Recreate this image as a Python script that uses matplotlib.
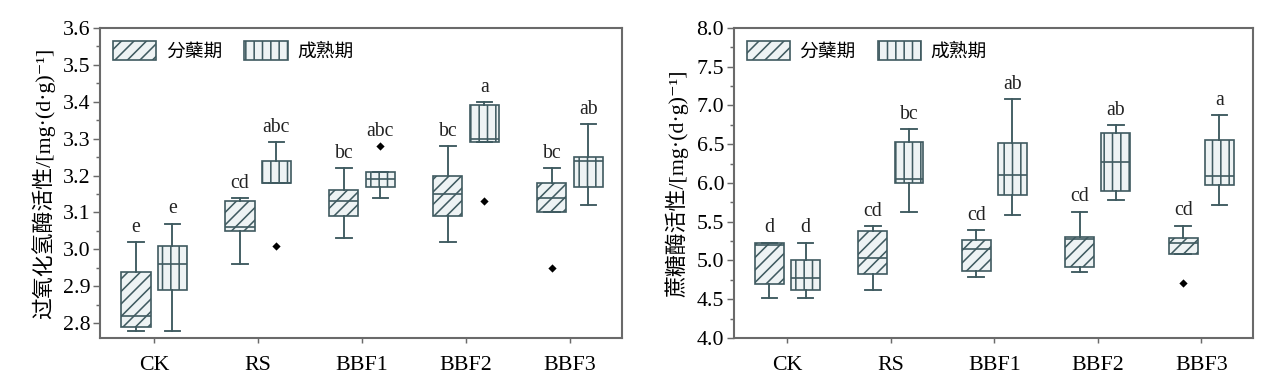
import matplotlib
matplotlib.use('Agg')
import matplotlib.pyplot as plt
from matplotlib.patches import Patch
from matplotlib.ticker import MultipleLocator
import numpy as np

groups = ['CK', 'RS', 'BBF1', 'BBF2', 'BBF3']
series = ['分蘖期', '成熟期']

# catalase (left panel): whisker low, q1, median, q3, whisker high, outliers
cat_till_lo = [2.78, 2.96, 3.03, 3.02, 3.10]
cat_till_q1 = [2.79, 3.05, 3.09, 3.09, 3.10]
cat_till_med = [2.82, 3.06, 3.13, 3.15, 3.14]
cat_till_q3 = [2.94, 3.13, 3.16, 3.20, 3.18]
cat_till_hi = [3.02, 3.14, 3.22, 3.28, 3.22]
cat_till_fl = [[], [], [], [], [2.95]]
cat_till_sig = ['e', 'cd', 'bc', 'bc', 'bc']

cat_mat_lo = [2.78, 3.18, 3.14, 3.29, 3.12]
cat_mat_q1 = [2.89, 3.18, 3.17, 3.29, 3.17]
cat_mat_med = [2.96, 3.18, 3.19, 3.30, 3.24]
cat_mat_q3 = [3.01, 3.24, 3.21, 3.39, 3.25]
cat_mat_hi = [3.07, 3.29, 3.21, 3.40, 3.34]
cat_mat_fl = [[], [3.01], [3.28], [3.13], []]
cat_mat_sig = ['e', 'abc', 'abc', 'a', 'ab']

# sucrase (right panel)
suc_till_lo = [4.52, 4.62, 4.79, 4.85, 5.08]
suc_till_q1 = [4.69, 4.83, 4.86, 4.92, 5.08]
suc_till_med = [5.20, 5.03, 5.15, 5.28, 5.23]
suc_till_q3 = [5.23, 5.38, 5.27, 5.30, 5.29]
suc_till_hi = [5.23, 5.44, 5.39, 5.63, 5.45]
suc_till_fl = [[], [], [], [], [4.71]]
suc_till_sig = ['d', 'cd', 'cd', 'cd', 'cd']

suc_mat_lo = [4.52, 5.62, 5.59, 5.78, 5.72]
suc_mat_q1 = [4.62, 6.00, 5.84, 5.89, 5.97]
suc_mat_med = [4.77, 6.05, 6.10, 6.27, 6.09]
suc_mat_q3 = [5.00, 6.53, 6.52, 6.64, 6.55]
suc_mat_hi = [5.23, 6.70, 7.08, 6.75, 6.88]
suc_mat_fl = [[], [], [], [], []]
suc_mat_sig = ['d', 'bc', 'ab', 'ab', 'a']

EDGE = '#3f5a60'
FILL = '#eef3f4'
SPINE = '#6a6a6a'
H_TILL = '////'
H_MAT = '|||'

plt.rcParams['font.family'] = ['Liberation Serif', 'Noto Sans CJK SC', 'DejaVu Sans']
plt.rcParams['hatch.linewidth'] = 0.75

fig = plt.figure(figsize=(1267 / 150, 378 / 150), dpi=150)
ax1 = fig.add_axes([0.079, 0.106, 0.412, 0.820])
ax2 = fig.add_axes([0.579, 0.106, 0.410, 0.820])


def make_stats(lo, q1, med, q3, hi, fl):
    out = []
    for i in range(len(lo)):
        out.append(dict(whislo=lo[i], q1=q1[i], med=med[i], q3=q3[i],
                        whishi=hi[i], fliers=fl[i]))
    return out


def draw_set(ax, stats, pos, hatch, sig):
    bp = ax.bxp(stats, positions=pos, widths=0.28, patch_artist=True,
                showfliers=True, capwidths=0.15,
                boxprops=dict(facecolor=FILL, edgecolor=EDGE, linewidth=0.8),
                medianprops=dict(color=EDGE, linewidth=0.8),
                whiskerprops=dict(color=EDGE, linewidth=0.9),
                capprops=dict(color=EDGE, linewidth=0.9),
                flierprops=dict(marker='D', markersize=1.8, markerfacecolor='black',
                                markeredgecolor='black'))
    for b in bp['boxes']:
        b.set_hatch(hatch)
    for i, s in enumerate(stats):
        top = max([s['whishi']] + list(s['fliers']))
        ax.annotate(sig[i], (pos[i], top), xytext=(0, 2.5), textcoords='offset points',
                    ha='center', va='bottom', fontsize=9.5, color='#222222')


def setup(ax, ylo, yhi, major, ylabel):
    ax.set_xlim(0.48, 5.5)
    ax.set_ylim(ylo, yhi)
    ax.set_xticks(np.arange(1, 6))
    ax.set_xticklabels(groups, fontsize=10.5)
    ax.yaxis.set_major_locator(MultipleLocator(major))
    ax.yaxis.set_minor_locator(MultipleLocator(major / 2))
    ax.yaxis.set_major_formatter(plt.FormatStrFormatter('%.1f'))
    ax.tick_params(axis='y', which='major', length=3.5, width=0.7, color=SPINE,
                   labelsize=10.5, pad=1)
    ax.tick_params(axis='y', which='minor', length=2, width=0.7, color=SPINE)
    ax.tick_params(axis='x', length=2.5, width=0.7, color=SPINE, pad=6)
    for sp in ax.spines.values():
        sp.set_color(SPINE)
        sp.set_linewidth(1.0)
    ax.set_ylabel(ylabel, fontsize=10.5, labelpad=4)
    handles = [Patch(facecolor=FILL, edgecolor=EDGE, hatch=H_TILL, linewidth=0.8, label=series[0]),
               Patch(facecolor=FILL, edgecolor=EDGE, hatch=H_MAT, linewidth=0.8, label=series[1])]
    ax.legend(handles=handles, loc='upper left', ncol=2, frameon=False, fontsize=9,
              handlelength=2.3, handleheight=1.2, columnspacing=1.2, handletextpad=0.5,
              borderaxespad=0.3, bbox_to_anchor=(0.0, 1.0))


x = np.arange(1, 6)
draw_set(ax1, make_stats(cat_till_lo, cat_till_q1, cat_till_med, cat_till_q3, cat_till_hi, cat_till_fl),
         x - 0.175, H_TILL, cat_till_sig)
draw_set(ax1, make_stats(cat_mat_lo, cat_mat_q1, cat_mat_med, cat_mat_q3, cat_mat_hi, cat_mat_fl),
         x + 0.175, H_MAT, cat_mat_sig)
setup(ax1, 2.76, 3.6, 0.1, '过氧化氢酶活性/[mg·(d·g)⁻¹]')

draw_set(ax2, make_stats(suc_till_lo, suc_till_q1, suc_till_med, suc_till_q3, suc_till_hi, suc_till_fl),
         x - 0.175, H_TILL, suc_till_sig)
draw_set(ax2, make_stats(suc_mat_lo, suc_mat_q1, suc_mat_med, suc_mat_q3, suc_mat_hi, suc_mat_fl),
         x + 0.175, H_MAT, suc_mat_sig)
setup(ax2, 4.0, 8.0, 0.5, '蔗糖酶活性/[mg·(d·g)⁻¹]')

fig.savefig('out.png', dpi=150)
